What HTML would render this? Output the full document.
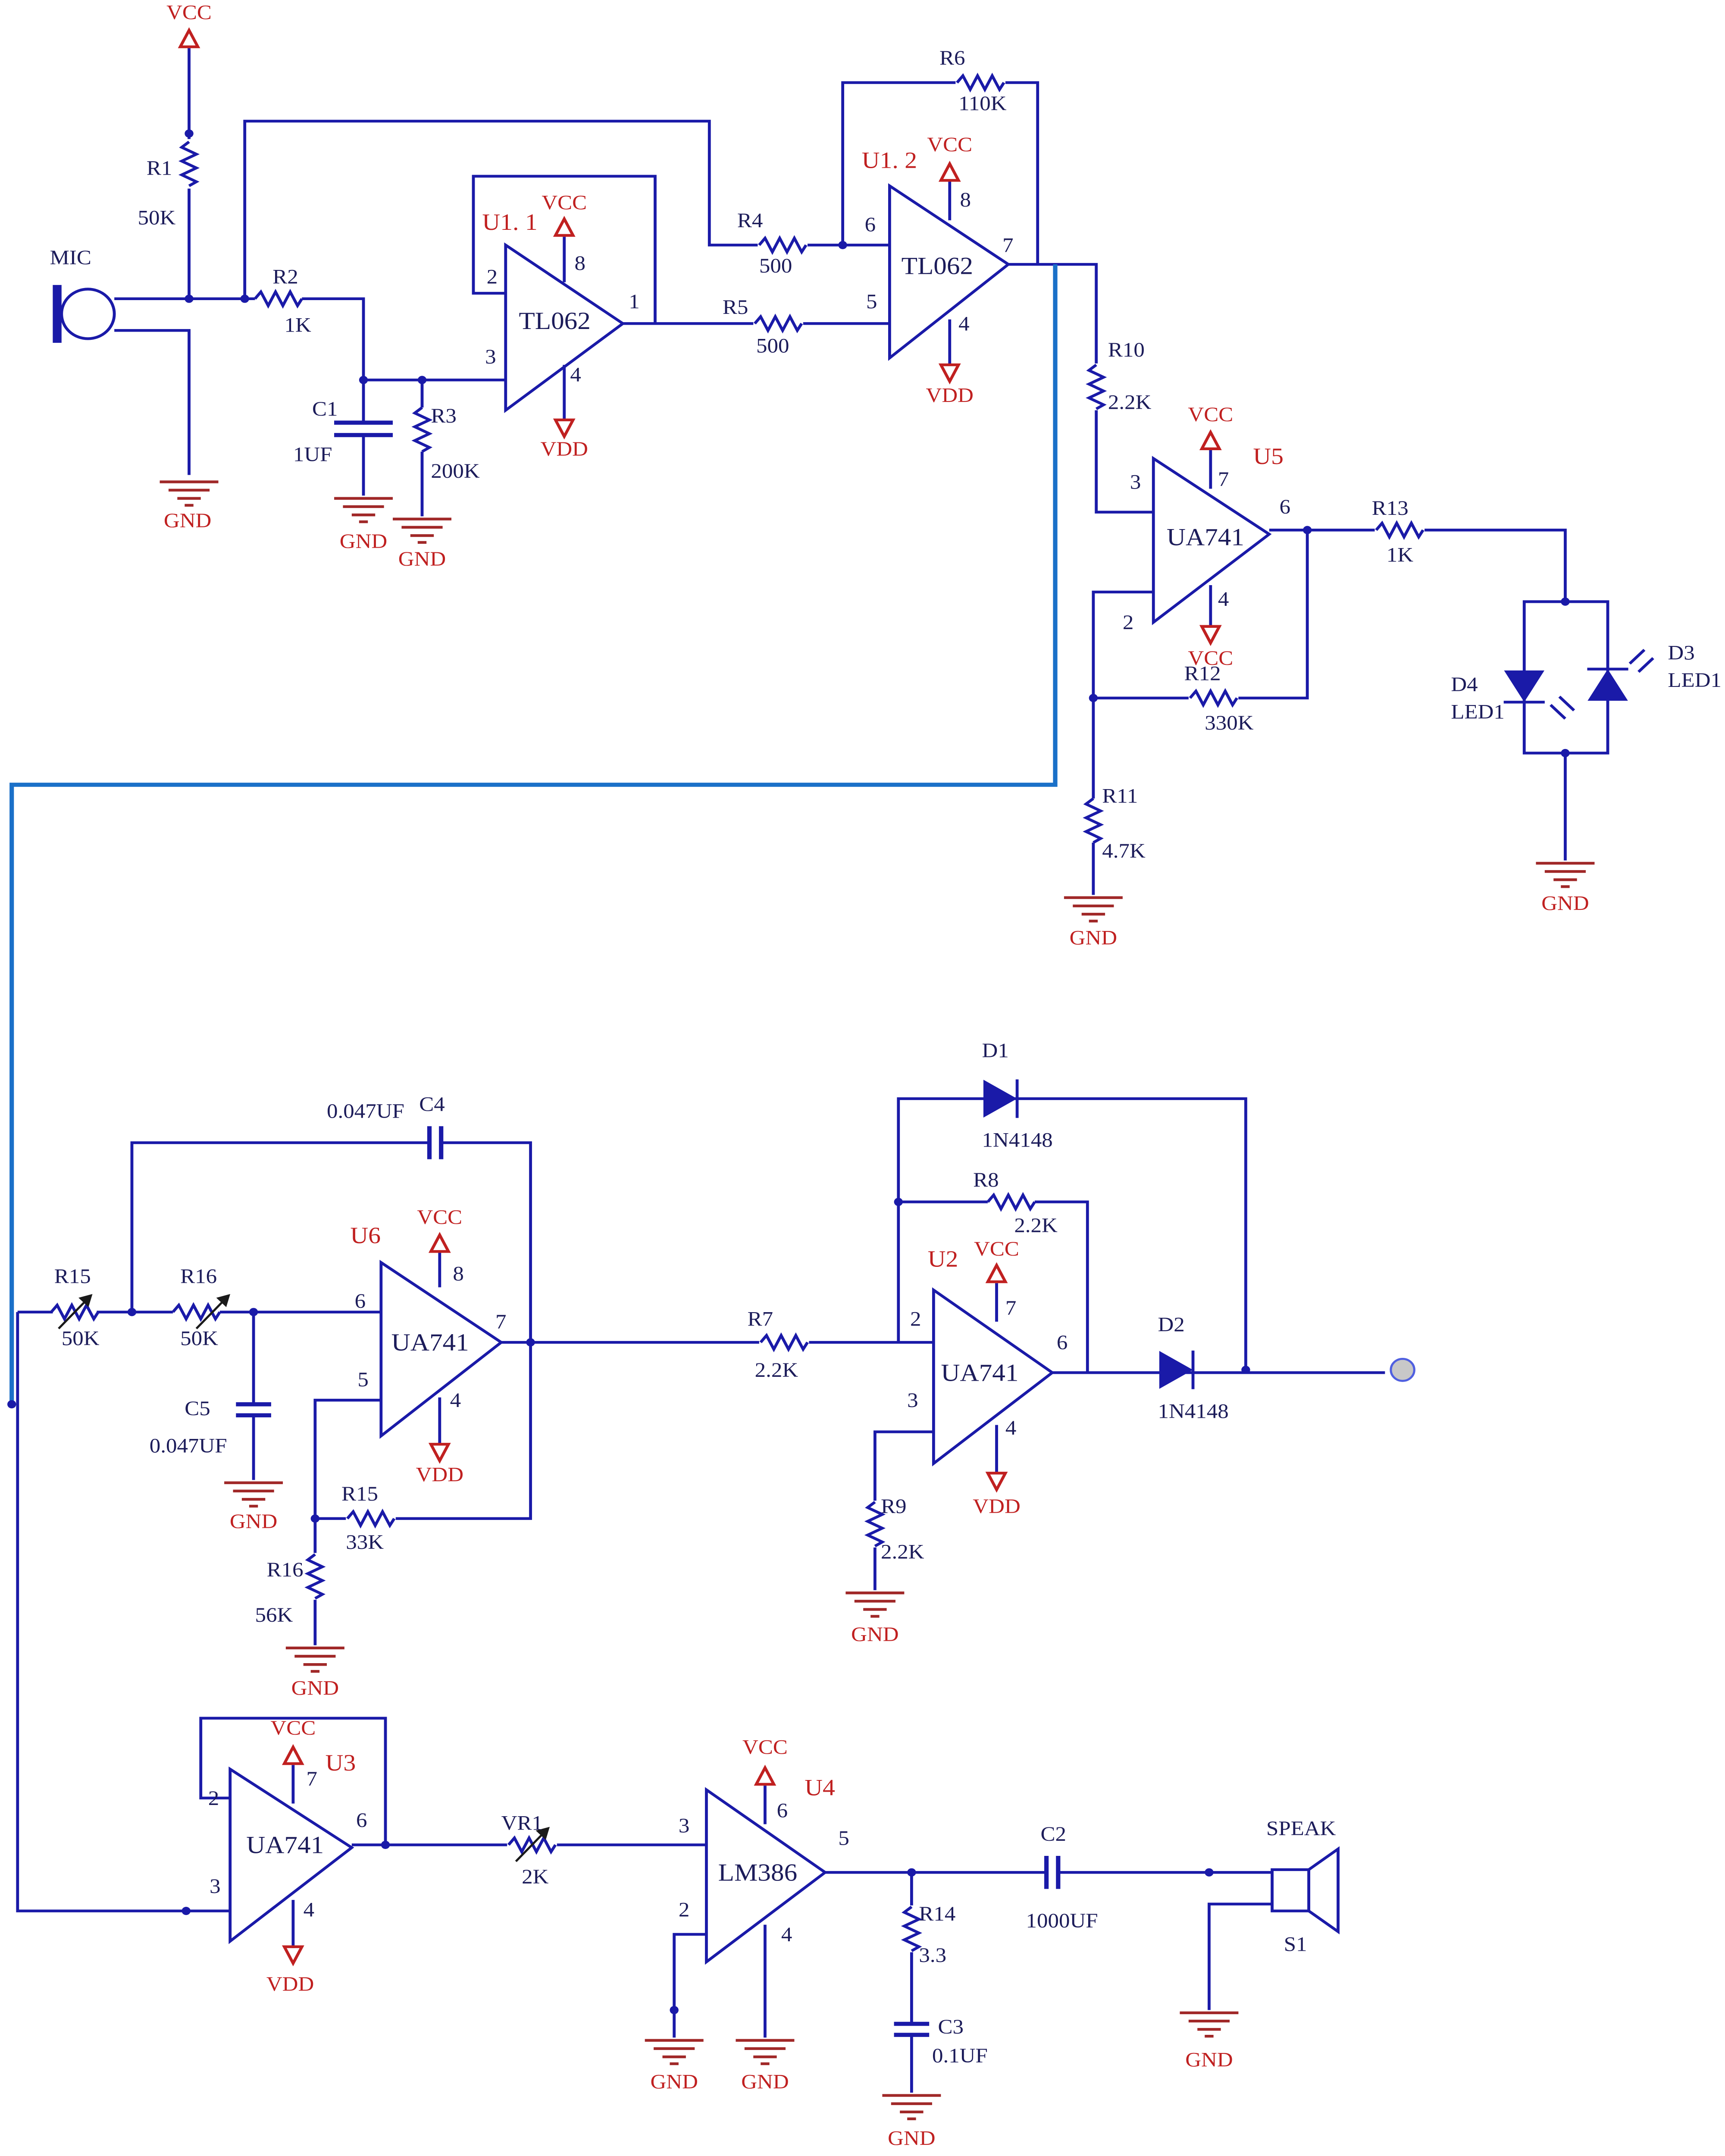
<!DOCTYPE html>
<html><head><meta charset="utf-8"><style>
html,body{margin:0;padding:0;background:#fff;width:100vw;height:100vh;overflow:hidden;position:relative;}
svg{display:block;position:absolute;left:0;top:0;width:100vw;height:100vh;}
text{font-family:"Liberation Serif",serif;font-size:15px;fill:#1c1c5a;}
.r{fill:#c02020;}
.big{font-size:18px;fill:#1c1c5a;}
</style></head><body>
<svg viewBox="0 0 1177 1566" preserveAspectRatio="none" xmlns="http://www.w3.org/2000/svg">
<defs>
<g id="rh"><path d="M-16,0 L-12,-5 L-7,5 L-2,-5 L3,5 L8,-5 L13,5 L16,0" fill="none" stroke="#1a1aa8" stroke-width="2"/></g>
<g id="rv"><path d="M0,-16 L-5,-12 L5,-7 L-5,-2 L5,3 L-5,8 L5,13 L0,16" fill="none" stroke="#1a1aa8" stroke-width="2"/></g>
<g id="gnd" stroke="#a02828" stroke-width="2"><line x1="-20" y1="0" x2="20" y2="0"/><line x1="-14" y1="6" x2="14" y2="6"/><line x1="-8" y1="12" x2="8" y2="12"/><line x1="-3" y1="17" x2="3" y2="17"/></g>
<g id="up"><path d="M-6,6 L0,-6 L6,6 Z" fill="none" stroke="#c02020" stroke-width="2"/></g>
<g id="dn"><path d="M-6,-6 L0,6 L6,-6 Z" fill="none" stroke="#c02020" stroke-width="2"/></g>
</defs>
<g fill="none" stroke="#1a1aa8" stroke-width="2">
<path d="M129,35 V101 M129,137 V217 M78,217 H129 M129,217 H174 M167,217 V88 H484 V178 H517 M551,178 H607 M575,178 V60 H652 M686,60 H708 V192"/>
<path d="M206,217 H248 V276 H345 M248,276 V307 M248,316 V360 M288,276 V296 M288,328 V375"/>
<path d="M228,307 H268 M228,316 H268" stroke-width="3"/>
<path d="M78,240 H129 V345"/>
<path d="M345,178 V298 L425,235 Z M345,213 H323 V128 H447 V235 M425,235 H514 M548,235 H607"/>
<path d="M385,172 V205 M385,265 V305"/>
<path d="M607,135 V260 L688,192 Z M648,132 V160 M648,232 V265 M688,192 H748 V264 M748,298 V372 H787"/>
<path d="M787,333 V452 L866,388 Z M826,327 V355 M826,425 V455 M866,385 H938 M972,385 H1068 V437 M892,385 V507 H845 M811,507 H746 M787,430 H746 V580 M746,612 V650"/>
<path d="M1040,437 H1097 V547 H1040 Z M1068,547 V625"/>
<path d="M12,953 H36 M66,953 H118 M150,953 H260 M90,953 V830 H293 M301,830 H362 V1103 H270 M236,1103 H215 V1128 M215,1162 V1195 M260,1017 H215 V1103"/>
<path d="M293,818 V842 M301,818 V842" stroke-width="3"/>
<path d="M173,953 V1020 M173,1028 V1075"/>
<path d="M161,1020 H185 M161,1028 H185" stroke-width="3"/>
<path d="M260,917 V1043 L342,975 Z M300,910 V935 M300,1015 V1050 M342,975 H518 M552,975 H637"/>
<path d="M613,975 V798 H850 V995 M613,873 H674 M706,873 H742 V997"/>
<path d="M637,937 V1063 L718,997 Z M680,932 V960 M680,1035 V1070 M718,997 H945 M637,1040 H597 V1090 M597,1124 V1155"/>
<path d="M12,953 V1388 H157 M157,1285 V1410 L240,1342 Z M200,1282 V1310 M200,1380 V1415 M157,1306 H137 V1248 H263 V1340 M240,1340 H346 M380,1340 H482"/>
<path d="M482,1300 V1425 L563,1360 Z M522,1297 V1325 M522,1398 V1480 M482,1405 H460 V1480 M563,1360 H622 V1384 M622,1418 V1470 M622,1478 V1520 M622,1360 H714 M722,1360 H868 M868,1383 H825 V1460"/>
<path d="M714,1348 V1372 M722,1348 V1372 M610,1470 H634 M610,1478 H634" stroke-width="3"/>
<path d="M868,1358 H893 V1388 H868 Z M893,1358 L913,1343 V1403 L893,1388"/>
<path d="M39,207 V249" stroke-width="6"/>
<circle cx="60" cy="228" r="18" stroke-width="2"/>
</g>
<path d="M720,192 V570 H8 V1020" fill="none" stroke="#1a70c8" stroke-width="3"/>
<use href="#rv" x="129" y="119"/><use href="#rh" x="190" y="217"/>
<use href="#rv" x="288" y="312"/><use href="#rh" x="534" y="178"/><use href="#rh" x="531" y="235"/>
<use href="#rh" x="669" y="60"/><use href="#rv" x="748" y="281"/><use href="#rh" x="955" y="385"/>
<use href="#rh" x="828" y="507"/><use href="#rv" x="746" y="596"/>
<use href="#rh" x="51" y="953"/><use href="#rh" x="134" y="953"/><use href="#rh" x="253" y="1103"/>
<use href="#rv" x="215" y="1145"/><use href="#rh" x="535" y="975"/><use href="#rh" x="690" y="873"/>
<use href="#rv" x="597" y="1107"/><use href="#rh" x="363" y="1340"/><use href="#rv" x="622" y="1401"/>
<g stroke="#1a1a1a" stroke-width="1.5" fill="#1a1a1a">
<path d="M40,965 L62,941 M134,965 L156,941 M352,1352 L374,1328" fill="none"/>
<path d="M62,941 l-7,2 l5,5 Z M156,941 l-7,2 l5,5 Z M374,1328 l-7,2 l5,5 Z"/>
</g>
<g fill="#1a1aa8" stroke="#1a1aa8" stroke-width="2">
<path d="M672,786 L692,798 L672,810 Z"/><line x1="694" y1="784" x2="694" y2="812"/>
<path d="M792,983 L812,995 L792,1007 Z"/><line x1="814" y1="981" x2="814" y2="1009"/>
<path d="M1028,488 L1052,488 L1040,508 Z"/><line x1="1026" y1="510" x2="1054" y2="510"/>
<path d="M1085,508 L1109,508 L1097,488 Z"/><line x1="1083" y1="486" x2="1111" y2="486"/>
<path d="M1058,512 l10,10 M1064,506 l10,10 M1112,482 l10,-10 M1118,488 l10,-10" fill="none"/>
</g>
<circle cx="957" cy="995" r="8" fill="#c8c8c8" stroke="#5060e0" stroke-width="1.5"/>
<g fill="#1a1aa8">
<circle cx="129" cy="97" r="3"/><circle cx="129" cy="217" r="3"/><circle cx="167" cy="217" r="3"/><circle cx="248" cy="276" r="3"/><circle cx="288" cy="276" r="3"/><circle cx="575" cy="178" r="3"/><circle cx="892" cy="385" r="3"/><circle cx="746" cy="507" r="3"/><circle cx="1068" cy="437" r="3"/><circle cx="1068" cy="547" r="3"/>
<circle cx="90" cy="953" r="3"/><circle cx="173" cy="953" r="3"/><circle cx="362" cy="975" r="3"/><circle cx="215" cy="1103" r="3"/><circle cx="613" cy="873" r="3"/><circle cx="850" cy="995" r="3"/><circle cx="8" cy="1020" r="3"/><circle cx="127" cy="1388" r="3"/><circle cx="263" cy="1340" r="3"/><circle cx="460" cy="1460" r="3"/><circle cx="622" cy="1360" r="3"/><circle cx="825" cy="1360" r="3"/>
</g>
<use href="#up" x="129" y="28"/><use href="#up" x="385" y="165"/><use href="#up" x="648" y="125"/><use href="#up" x="826" y="320"/><use href="#up" x="300" y="903"/><use href="#up" x="680" y="925"/><use href="#up" x="200" y="1275"/><use href="#up" x="522" y="1290"/>
<use href="#dn" x="385" y="311"/><use href="#dn" x="648" y="271"/><use href="#dn" x="826" y="461"/><use href="#dn" x="300" y="1055"/><use href="#dn" x="680" y="1076"/><use href="#dn" x="200" y="1420"/>
<use href="#gnd" x="129" y="350"/><use href="#gnd" x="248" y="362"/><use href="#gnd" x="288" y="377"/><use href="#gnd" x="746" y="652"/><use href="#gnd" x="1068" y="627"/><use href="#gnd" x="173" y="1077"/><use href="#gnd" x="215" y="1197"/><use href="#gnd" x="597" y="1157"/><use href="#gnd" x="460" y="1482"/><use href="#gnd" x="522" y="1482"/><use href="#gnd" x="622" y="1522"/><use href="#gnd" x="825" y="1462"/>
<g text-anchor="middle">
<text class="r" x="129" y="14">VCC</text><text class="r" x="385" y="152">VCC</text><text class="r" x="648" y="110">VCC</text><text class="r" x="826" y="306">VCC</text><text class="r" x="826" y="483">VCC</text><text class="r" x="300" y="889">VCC</text><text class="r" x="680" y="912">VCC</text><text class="r" x="200" y="1260">VCC</text><text class="r" x="522" y="1274">VCC</text>
<text class="r" x="385" y="331">VDD</text><text class="r" x="648" y="292">VDD</text><text class="r" x="300" y="1076">VDD</text><text class="r" x="680" y="1099">VDD</text><text class="r" x="198" y="1446">VDD</text>
<text class="r" x="128" y="383">GND</text><text class="r" x="248" y="398">GND</text><text class="r" x="288" y="411">GND</text><text class="r" x="746" y="686">GND</text><text class="r" x="1068" y="661">GND</text><text class="r" x="173" y="1110">GND</text><text class="r" x="215" y="1231">GND</text><text class="r" x="597" y="1192">GND</text><text class="r" x="460" y="1517">GND</text><text class="r" x="522" y="1517">GND</text><text class="r" x="622" y="1558">GND</text><text class="r" x="825" y="1501">GND</text>
</g>
<text class="r" x="329" y="167" style="font-size:17px">U1. 1</text><text class="r" x="588" y="122" style="font-size:17px">U1. 2</text><text class="r" x="855" y="337" style="font-size:17px">U5</text><text class="r" x="239" y="903" style="font-size:17px">U6</text><text class="r" x="633" y="920" style="font-size:17px">U2</text><text class="r" x="222" y="1286" style="font-size:17px">U3</text><text class="r" x="549" y="1304" style="font-size:17px">U4</text>
<text class="big" x="354" y="239">TL062</text><text class="big" x="615" y="199">TL062</text><text class="big" x="796" y="396">UA741</text><text class="big" x="267" y="981">UA741</text><text class="big" x="642" y="1003">UA741</text><text class="big" x="168" y="1346">UA741</text><text class="big" x="490" y="1366">LM386</text>
<text x="34" y="192">MIC</text><text x="100" y="127">R1</text><text x="94" y="163">50K</text><text x="186" y="206">R2</text><text x="194" y="241">1K</text><text x="213" y="302">C1</text><text x="200" y="335">1UF</text><text x="294" y="307">R3</text><text x="294" y="347">200K</text>
<text x="332" y="206">2</text><text x="331" y="264">3</text><text x="392" y="196">8</text><text x="389" y="277">4</text><text x="429" y="224">1</text>
<text x="503" y="165">R4</text><text x="518" y="198">500</text><text x="493" y="228">R5</text><text x="516" y="256">500</text><text x="641" y="47">R6</text><text x="654" y="80">110K</text>
<text x="590" y="168">6</text><text x="591" y="224">5</text><text x="655" y="150">8</text><text x="654" y="240">4</text><text x="684" y="183">7</text>
<text x="756" y="259">R10</text><text x="756" y="297">2.2K</text><text x="771" y="355">3</text><text x="766" y="457">2</text><text x="831" y="353">7</text><text x="831" y="440">4</text><text x="873" y="373">6</text>
<text x="936" y="374">R13</text><text x="946" y="408">1K</text><text x="808" y="494">R12</text><text x="822" y="530">330K</text><text x="752" y="583">R11</text><text x="752" y="623">4.7K</text>
<text x="990" y="502">D4</text><text x="990" y="522">LED1</text><text x="1138" y="479">D3</text><text x="1138" y="499">LED1</text>
<text x="37" y="932">R15</text><text x="42" y="977">50K</text><text x="123" y="932">R16</text><text x="123" y="977">50K</text><text x="223" y="812">0.047UF</text><text x="286" y="807">C4</text><text x="126" y="1028">C5</text><text x="102" y="1055">0.047UF</text>
<text x="242" y="950">6</text><text x="244" y="1007">5</text><text x="309" y="930">8</text><text x="307" y="1022">4</text><text x="338" y="965">7</text>
<text x="233" y="1090">R15</text><text x="236" y="1125">33K</text><text x="182" y="1145">R16</text><text x="174" y="1178">56K</text>
<text x="510" y="963">R7</text><text x="515" y="1000">2.2K</text><text x="670" y="768">D1</text><text x="670" y="833">1N4148</text><text x="664" y="862">R8</text><text x="692" y="895">2.2K</text>
<text x="621" y="963">2</text><text x="619" y="1022">3</text><text x="686" y="955">7</text><text x="686" y="1042">4</text><text x="721" y="980">6</text>
<text x="790" y="967">D2</text><text x="790" y="1030">1N4148</text><text x="601" y="1099">R9</text><text x="601" y="1132">2.2K</text>
<text x="142" y="1311">2</text><text x="143" y="1375">3</text><text x="209" y="1297">7</text><text x="207" y="1392">4</text><text x="243" y="1327">6</text>
<text x="342" y="1329">VR1</text><text x="356" y="1368">2K</text><text x="463" y="1331">3</text><text x="463" y="1392">2</text><text x="530" y="1320">6</text><text x="533" y="1410">4</text><text x="572" y="1340">5</text>
<text x="627" y="1395">R14</text><text x="627" y="1425">3.3</text><text x="640" y="1477">C3</text><text x="636" y="1498">0.1UF</text><text x="710" y="1337">C2</text><text x="700" y="1400">1000UF</text><text x="864" y="1333">SPEAK</text><text x="876" y="1417">S1</text>
</svg>
</body></html>
